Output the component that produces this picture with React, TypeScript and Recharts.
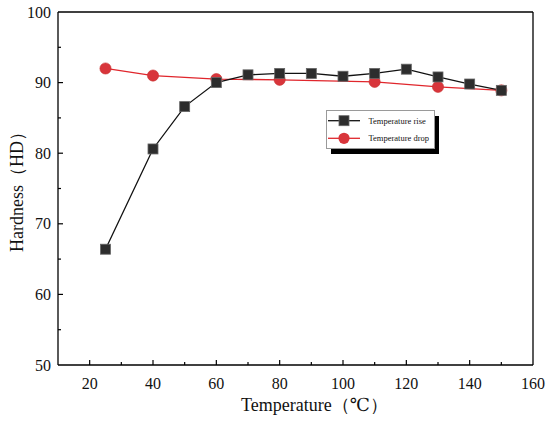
import React from 'react';
import { LineChart, Line, XAxis, YAxis, ReferenceLine } from 'recharts';

const riseTemps = [25, 40, 50, 60, 70, 80, 90, 100, 110, 120, 130, 140, 150];
const riseHardness = [66.4, 80.6, 86.6, 90.0, 91.1, 91.3, 91.3, 90.9, 91.3, 91.9, 90.8, 89.8, 88.9];
const dropTemps = [25, 40, 60, 80, 110, 130, 150];
const dropHardness = [92.0, 91.0, 90.5, 90.4, 90.1, 89.4, 88.9];
const xTicks = [20, 30, 40, 50, 60, 70, 80, 90, 100, 110, 120, 130, 140, 150, 160];
const yTicks = [50, 55, 60, 65, 70, 75, 80, 85, 90, 95, 100];
const seriesNames = ['Temperature rise', 'Temperature drop'];

const riseData = riseTemps.map((t, i) => ({ t, h: riseHardness[i] }));
const dropData = dropTemps.map((t, i) => ({ t, h: dropHardness[i] }));

const FONT = 'Liberation Serif, DejaVu Serif, serif';
const BLACK_FILL = '#2d2d2d';
const RED = '#e0262c';
const RED_FILL = '#d8353b';

const XTick = (props: any) => {
  const { x, y, payload } = props;
  const v = payload.value;
  const major = v % 20 === 0;
  return (
    <g>
      {v !== 160 && (
        <line x1={x} x2={x} y1={y} y2={y - (major ? 5 : 3)} stroke="#000" strokeWidth={1.2} />
      )}
      {major && (
        <text x={x} y={y + 23.5} textAnchor="middle" fontSize={16} style={{ fontFamily: FONT }} fill="#111">
          {v}
        </text>
      )}
    </g>
  );
};

const YTick = (props: any) => {
  const { x, y, payload } = props;
  const v = payload.value;
  const major = v % 10 === 0;
  return (
    <g>
      {v !== 100 && v !== 50 && (
        <line x1={x} x2={x + (major ? 5 : 3)} y1={y} y2={y} stroke="#000" strokeWidth={1.2} />
      )}
      {major && (
        <text x={x - 7} y={y + 5.5} textAnchor="end" fontSize={16} style={{ fontFamily: FONT }} fill="#111">
          {v}
        </text>
      )}
    </g>
  );
};

const SquareDot = (props: any) => {
  const { cx, cy, index } = props;
  if (cx == null || cy == null) return null;
  return (
    <rect key={`sq-${index}`} x={cx - 5} y={cy - 5} width={10} height={10} fill={BLACK_FILL} stroke="#666" strokeWidth={0.8} />
  );
};

const CircleDot = (props: any) => {
  const { cx, cy, index } = props;
  if (cx == null || cy == null) return null;
  return <circle key={`ci-${index}`} cx={cx} cy={cy} r={5.6} fill={RED_FILL} stroke="#c9302f" strokeWidth={0.6} />;
};

const LegendBox = () => (
  <svg width={114} height={45} style={{ display: 'block', overflow: 'visible' }}>
    <rect x={5} y={6} width={108} height={38} fill="#000" />
    <rect x={0.5} y={0.5} width={108} height={38} fill="#fff" stroke="#9a9a9a" strokeWidth={1} />
    <line x1={2} x2={34} y1={10.7} y2={10.7} stroke="#111" strokeWidth={1.3} />
    <rect x={13} y={5.7} width={10} height={10} fill={BLACK_FILL} stroke="#666" strokeWidth={0.8} />
    <text x={42.5} y={13.7} fontSize={8.5} style={{ fontFamily: FONT }} fill="#111">
      {seriesNames[0]}
    </text>
    <line x1={2} x2={34} y1={28.3} y2={28.3} stroke={RED} strokeWidth={1.3} />
    <circle cx={18} cy={28.3} r={5.6} fill={RED_FILL} />
    <text x={42.5} y={31.3} fontSize={8.5} style={{ fontFamily: FONT }} fill="#111">
      {seriesNames[1]}
    </text>
  </svg>
);

export default function App() {
  return (
    <div style={{ position: 'absolute', left: 0, top: 0, width: 550, height: 423, background: '#fff', fontFamily: FONT }}>
      <LineChart width={550} height={423} margin={{ top: 12, right: 17, bottom: 0, left: 0 }}>
        <XAxis
          type="number"
          dataKey="t"
          domain={[10, 160]}
          ticks={xTicks}
          interval={0}
          allowDataOverflow
          height={58}
          tickSize={0}
          tickMargin={0}
          tickLine={false}
          tick={<XTick />}
          axisLine={{ stroke: '#000', strokeWidth: 1.3 }}
          label={{
            content: () => (
              <text x={241} y={411} textAnchor="start" fontSize={18} style={{ fontFamily: FONT }} fill="#111">
                Temperature（℃）
              </text>
            ),
          }}
        />
        <YAxis
          type="number"
          dataKey="h"
          domain={[50, 100]}
          ticks={yTicks}
          interval={0}
          allowDataOverflow
          width={58}
          tickSize={0}
          tickMargin={0}
          tickLine={false}
          tick={<YTick />}
          axisLine={{ stroke: '#000', strokeWidth: 1.3 }}
          label={{
            content: () => (
              <text
                x={23}
                y={252}
                transform="rotate(-90 23 252)"
                textAnchor="start"
                fontSize={18}
                style={{ fontFamily: FONT }}
                fill="#111"
              >
                Hardness（HD）
              </text>
            ),
          }}
        />
        <ReferenceLine y={100} stroke="#000" strokeWidth={1.3} ifOverflow="visible" />
        <ReferenceLine x={160} stroke="#000" strokeWidth={1.3} ifOverflow="visible" />
        <Line
          data={dropData}
          dataKey="h"
          name={seriesNames[1]}
          stroke={RED}
          strokeWidth={1.3}
          dot={<CircleDot />}
          isAnimationActive={false}
        />
        <Line
          data={riseData}
          dataKey="h"
          name={seriesNames[0]}
          stroke="#111"
          strokeWidth={1.3}
          dot={<SquareDot />}
          isAnimationActive={false}
        />
      </LineChart>
      <div style={{ position: 'absolute', left: 325.5, top: 110 }}>
        <LegendBox />
      </div>
    </div>
  );
}
